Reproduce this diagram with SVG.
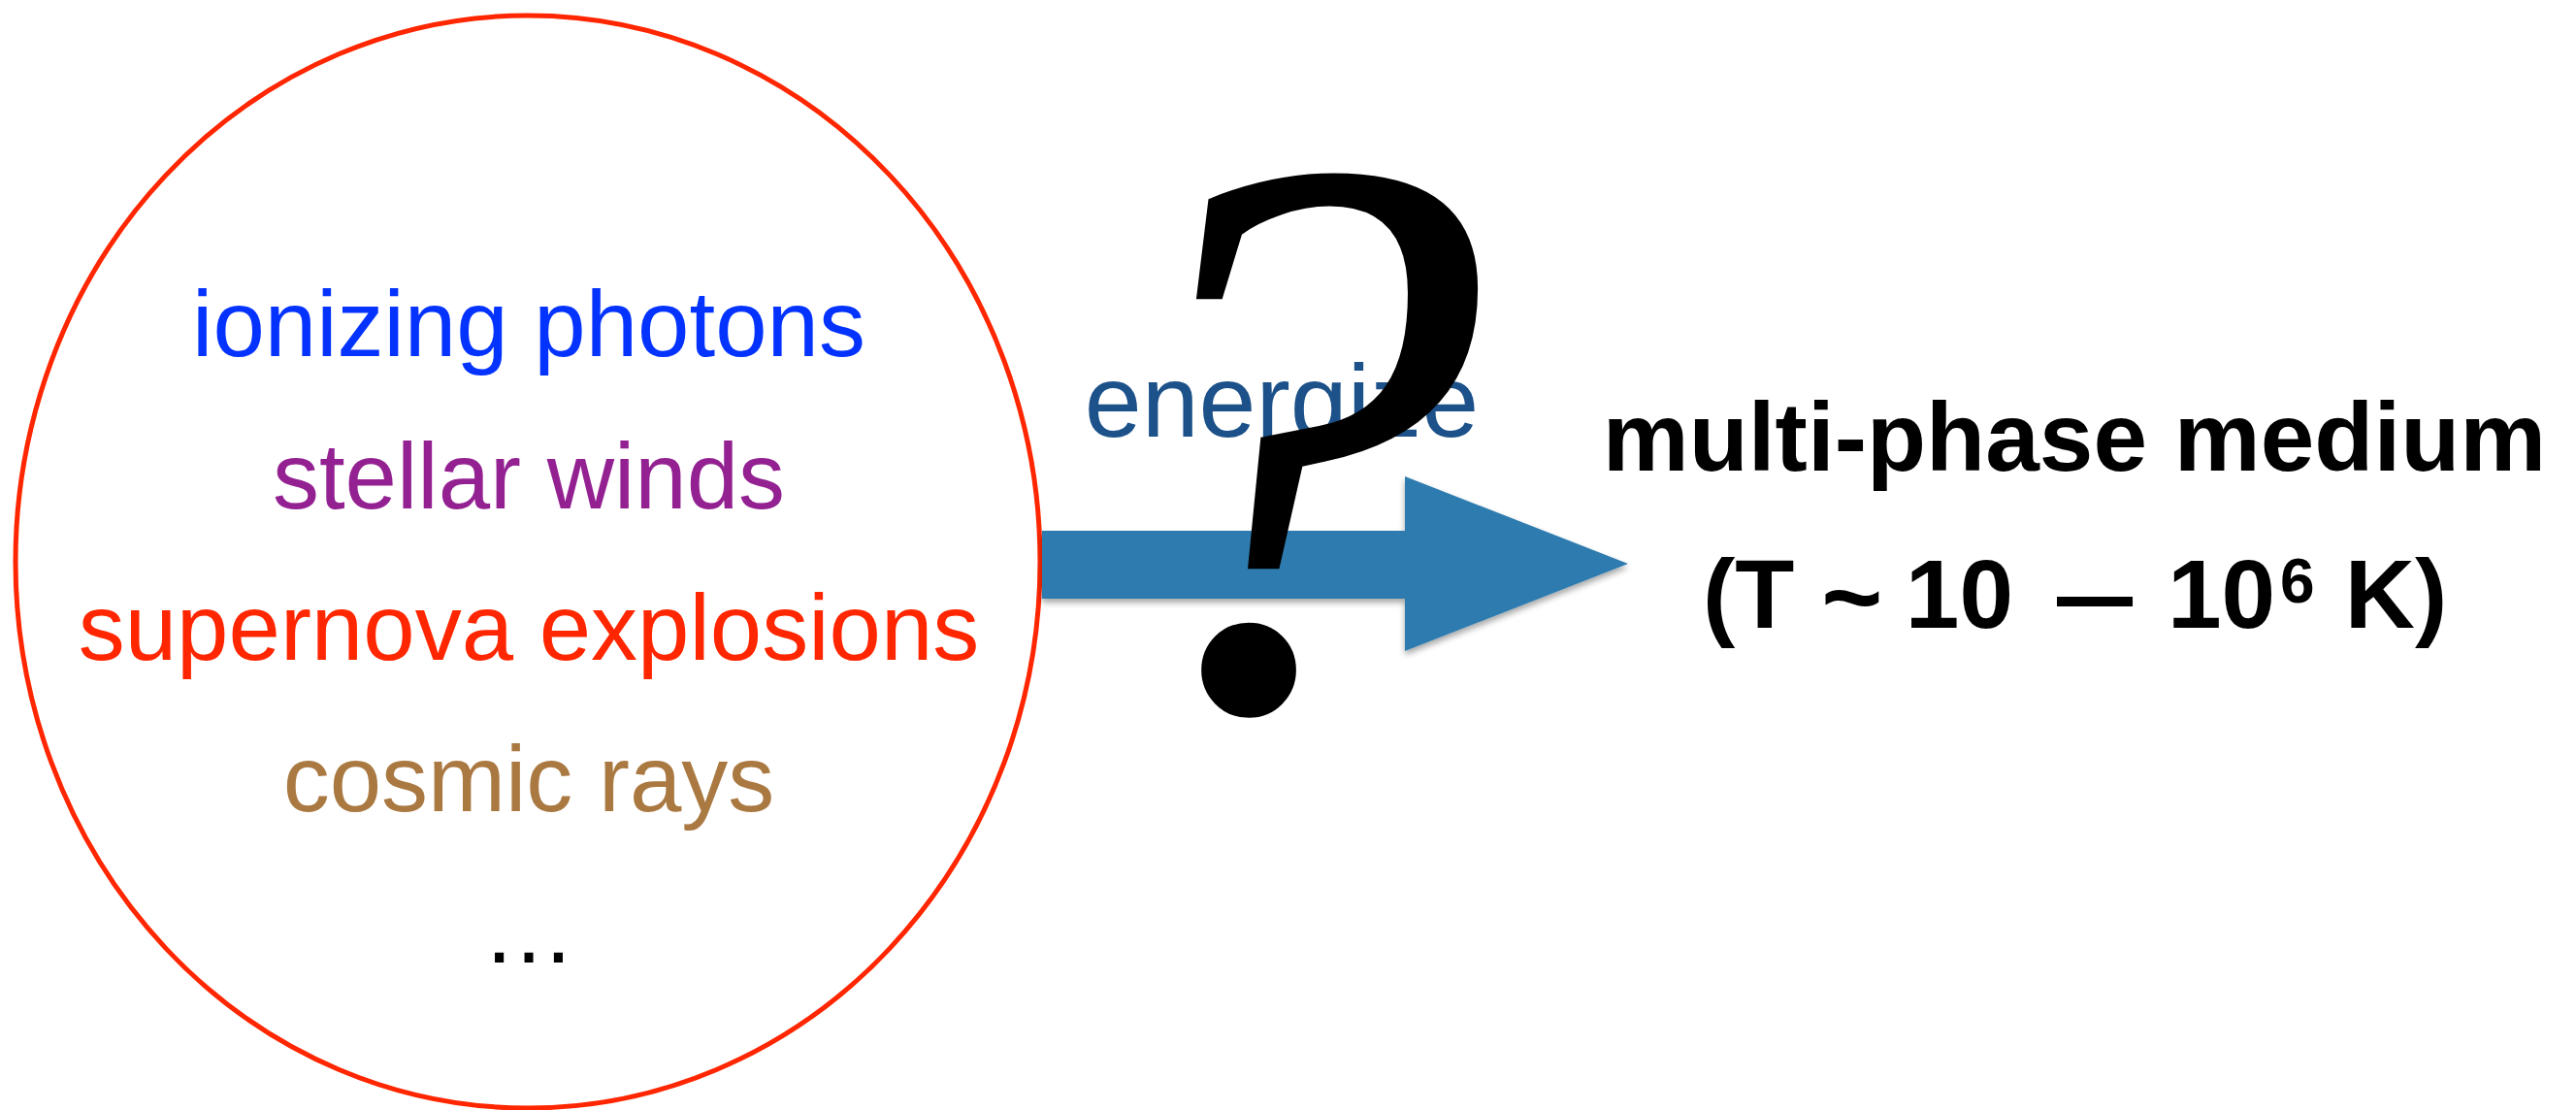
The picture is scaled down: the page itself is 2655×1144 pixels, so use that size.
<svg xmlns="http://www.w3.org/2000/svg" width="2655" height="1144" viewBox="0 0 2655 1144">
  <style>
    .sans { font-family: "Liberation Sans", Arial, Helvetica, sans-serif; }
    .src { font-size: 96px; text-anchor: middle; }
    .medium { font-size: 100px; font-weight: bold; fill: #000000; }
    .label { font-size: 106px; fill: #1C5189; text-anchor: middle; }
    .qmark { font-family: "Liberation Serif", "Times New Roman", serif; font-size: 830px; font-style: italic; fill: #000000; }
  </style>
  <defs>
    <filter id="arrowShadow" x="-5%" y="-20%" width="110%" height="150%">
      <feDropShadow dx="0" dy="4" stdDeviation="3" flood-color="#000000" flood-opacity="0.35"/>
    </filter>
  </defs>

  <rect width="2655" height="1144" fill="#ffffff"/>

  <!-- energy sources -->
  <g id="sources">
    <ellipse cx="544" cy="579" rx="528" ry="563" fill="none" stroke="#FF2600" stroke-width="5"/>
    <text class="sans src" x="545" y="367" fill="#0433FF">ionizing photons</text>
    <text class="sans src" x="545" y="524" fill="#942192">stellar winds</text>
    <text class="sans src" x="545" y="680" fill="#FF2600">supernova explosions</text>
    <text class="sans src" x="545" y="836" fill="#AA7942">cosmic rays</text>
    <text class="sans src" x="545" y="992" fill="#000000">…</text>
  </g>

  <!-- target medium -->
  <g id="medium">
    <text class="sans medium" x="2138" y="485" text-anchor="middle">multi-phase medium</text>
    <text class="sans medium" y="647"><tspan x="1755">(T </tspan><tspan font-size="108" dy="5">~</tspan><tspan x="1936" dy="-5"> 10 </tspan></text>
    <!-- long dash, narrowed to the width used in the label -->
    <text class="sans medium" transform="translate(2120,647) scale(0.78,1)">—</text>
    <text class="sans medium" y="647"><tspan x="2234">10</tspan><tspan x="2350" font-size="64" dy="-26">6</tspan><tspan x="2389" dy="26"> K)</tspan></text>
  </g>

  <!-- connector: sources energize the medium -->
  <g id="connectors">
    <polygon points="1074,547 1448,547 1448,491 1678,581 1448,671 1448,617 1074,617" fill="#2E7BAF" filter="url(#arrowShadow)"/>
    <text class="sans label" x="1321" y="450">energize</text>
  </g>

  <!-- open question over the link -->
  <g id="question">
    <text class="qmark" x="1115" y="728">?</text>
  </g>
</svg>
